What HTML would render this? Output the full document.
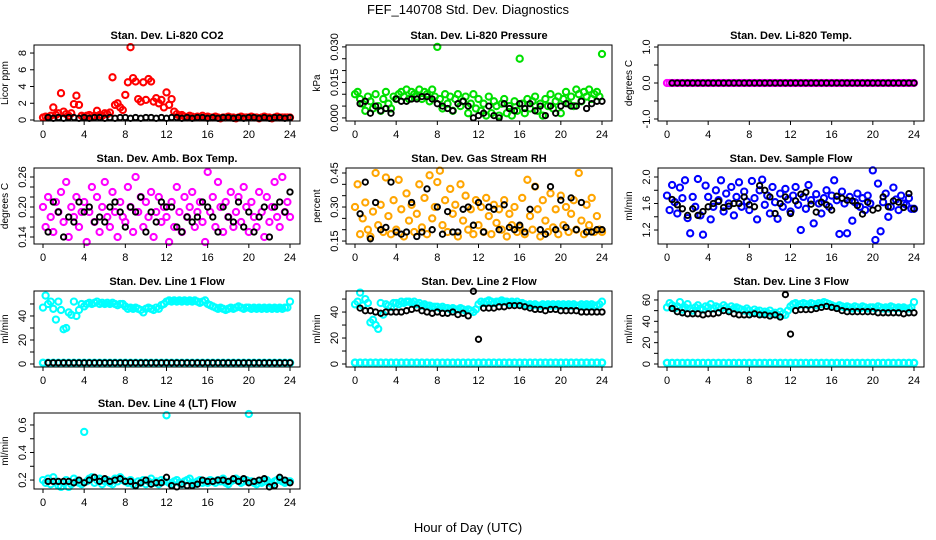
<!DOCTYPE html>
<html><head><meta charset="utf-8">
<style>
html,body{margin:0;padding:0;background:#fff;}
svg{display:block;font-family:"Liberation Sans",Arial,sans-serif;}
</style></head>
<body>
<svg id="chart" width="936" height="540" viewBox="0 0 936 540" xmlns="http://www.w3.org/2000/svg">
<rect width="936" height="540" fill="#fff"/>
<text x="468" y="14" text-anchor="middle" font-size="13">FEF_140708  Std. Dev. Diagnostics</text>
<text x="468" y="532" text-anchor="middle" font-size="13">Hour of Day (UTC)</text>
</svg>
<script>
// ---- data ----
const xTicks = [0,4,8,12,16,20,24];
const titles = ["Stan. Dev. Li-820 CO2","Stan. Dev. Li-820 Pressure","Stan. Dev. Li-820 Temp.","Stan. Dev. Amb. Box Temp.","Stan. Dev. Gas Stream RH","Stan. Dev. Sample Flow","Stan. Dev. Line 1 Flow","Stan. Dev. Line 2 Flow","Stan. Dev. Line 3 Flow","Stan. Dev. Line 4 (LT) Flow"];
const yTitles = ["Licor ppm","kPa","degrees C","degrees C","percent","ml/min","ml/min","ml/min","ml/min","ml/min"];
const yDomains = [[-0.12,8.96],[-0.0013,0.0308],[-1.056,1.056],[0.126,0.278],[0.137,0.472],[0.989,2.136],[-2.5,60.8],[-2.3,56.2],[-2.8,68.4],[0.135,0.687]];
const yTickVals = [[0,2,4,6,8],[0,0.005,0.01,0.015,0.02,0.025,0.03],[-1,-0.5,0,0.5,1],[0.14,0.16,0.18,0.2,0.22,0.24,0.26],[0.15,0.2,0.25,0.3,0.35,0.4,0.45],[1.2,1.4,1.6,1.8,2.0],[0,10,20,30,40,50],[0,10,20,30,40,50],[0,10,20,30,40,50,60],[0.2,0.3,0.4,0.5,0.6]];
const yTickLabels = [["0","2","4","6","8"],["0.000","","","0.015","","","0.030"],["-1.0","","0.0","","1.0"],["0.14","","","0.20","","","0.26"],["0.15","","","0.30","","","0.45"],["1.2","","1.6","","2.0"],["0","","20","","40",""],["0","","20","","40",""],["0","","20","","40","","60"],["0.2","","0.4","","0.6"]];
const seriesColors = ["#ff0000","#00e000","#ff00ff","#ff00ff","#ffa500","#0000ff","#00ffff","#00ffff","#00ffff","#00ffff"];

// colored series, every 0.25 h from 0 to 24 (97 values)
const co2 = [0.3,0.4,0.3,0.5,1.5,0.6,0.8,3.2,1.0,0.7,0.5,0.8,1.9,2.9,1.8,0.5, 0.4,0.5,0.6,0.3,0.5,1.1,0.6,0.5,0.8,0.7,0.9,5.1,1.8,2.0,1.5,1.2, 3.0,4.5,8.7,5.0,4.6,2.5,2.2,4.5,2.4,4.9,4.6,2.2,2.6,2.0,2.4,1.5, 3.3,1.8,2.5,1.0,0.7,0.5,0.6,0.4,0.3,0.5,0.4,0.3,0.4,0.3,0.5,0.3, 0.4,0.3,0.3,0.4,0.3,0.2,0.3,0.3,0.4,0.3,0.3,0.2,0.3,0.4,0.3,0.3, 0.3,0.4,0.3,0.3,0.2,0.3,0.4,0.3,0.3,0.2,0.3,0.4,0.3,0.3,0.3,0.3, 0.3];
const pressure = [.010,.011,.008,.006,.003,.009,.007,.004,.010,.005,.003,.008,.011,.006,.004,.009, .008,.010,.011,.009,.012,.008,.011,.010,.009,.012,.008,.011,.010,.007,.012,.009, .030,.008,.004,.010,.006,.009,.003,.008,.010,.005,.007,.009,.002,.006,.010,.004, .008,.003,.006,.001,.009,.002,.007,.005,.001,.006,.008,.002,.005,.001,.007,.003, .025,.006,.002,.008,.004,.007,.009,.003,.006,.001,.008,.005,.010,.004,.007,.009, .002,.008,.011,.006,.009,.005,.012,.010,.007,.011,.009,.012,.008,.010,.011,.009, .027];
const licorTemp = [0,0,0,0,0,0,0,0,0,0,0,0,0,0,0,0, 0,0,0,0,0,0,0,0,0,0,0,0,0,0,0,0, 0,0,0,0,0,0,0,0,0,0,0,0,0,0,0,0, 0,0,0,0,0,0,0,0,0,0,0,0,0,0,0,0, 0,0,0,0,0,0,0,0,0,0,0,0,0,0,0,0, 0,0,0,0,0,0,0,0,0,0,0,0,0,0,0,0, 0];
const boxTemp = [.20,.16,.22,.18,.15,.21,.19,.23,.17,.25,.14,.20,.18,.22,.16,.19, .21,.13,.19,.24,.17,.22,.15,.20,.25,.18,.16,.23,.19,.14,.21,.18, .17,.24,.20,.15,.26,.19,.22,.16,.21,.18,.23,.14,.19,.22,.17,.20, .18,.13,.21,.16,.24,.19,.15,.22,.18,.20,.23,.16,.19,.21,.17,.13, .27,.19,.22,.16,.25,.20,.15,.21,.18,.23,.16,.19,.22,.17,.24,.20, .15,.21,.18,.16,.23,.19,.14,.22,.17,.20,.25,.18,.16,.26,.19,.21, .18];
const gasRH = [.30,.40,.18,.25,.32,.20,.17,.28,.45,.22,.31,.19,.43,.26,.18,.33, .20,.42,.29,.17,.36,.24,.31,.19,.27,.40,.21,.34,.18,.44,.25,.30, .41,.46,.22,.33,.19,.38,.27,.31,.17,.40,.24,.35,.20,.29,.18,.33, .22,.30,.19,.34,.26,.18,.31,.23,.29,.20,.33,.17,.27,.22,.30,.19, .21,.34,.18,.42,.26,.20,.39,.29,.17,.33,.24,.19,.36,.21,.29,.18, .35,.22,.30,.19,.27,.33,.20,.45,.24,.18,.31,.22,.34,.19,.26,.20, .19];
const sampleFlow = [1.72,1.50,1.88,1.62,1.45,1.84,1.68,1.95,1.38,1.15,1.70,1.55,1.97,1.42,1.13,1.87, 1.70,1.36,1.55,1.80,1.65,1.95,1.48,1.75,1.60,1.85,1.42,1.70,1.92,1.55,1.78,1.63, 1.50,1.94,1.68,1.36,1.80,1.96,1.58,1.72,1.45,1.85,1.62,1.37,1.75,1.55,1.82,1.66, 1.48,1.72,1.85,1.58,1.20,1.70,1.52,1.88,1.65,1.30,1.74,1.60,1.45,1.68,1.80,1.55, 1.72,1.95,1.65,1.14,1.78,1.60,1.15,1.70,1.34,1.62,1.75,1.55,1.68,1.50,1.72,1.60, 2.10,1.05,1.90,1.18,1.62,1.75,1.40,1.55,1.84,1.66,1.50,1.72,1.60,1.58,1.68,1.52, 1.52];
const line1 = [47,57,50,52,46,37,52,45,29,30,43,41,52,40,45,50, 48,50,51,50,51,52,50,51,50,51,50,51,50,49,50,50, 48,46,47,46,47,46,45,43,46,47,46,45,47,46,49,50, 52,53,52,53,52,53,52,53,52,53,52,53,52,51,52,53, 50,49,48,47,46,47,46,45,46,47,46,47,48,47,46,47, 47,46,47,46,47,46,47,46,47,46,47,46,47,46,47,47, 52];
const line2 = [46,48,55,45,50,47,32,34,30,27,47,38,46,45,44,47, 47,46,48,47,48,48,47,48,46,47,45,46,45,45,44,44, 44,43,44,43,43,42,43,42,42,43,42,41,42,41,40,42, 46,48,47,48,49,48,47,48,48,49,48,48,47,48,47,48, 46,47,46,45,46,45,46,45,45,46,45,46,45,46,45,46, 45,46,45,46,45,46,45,45,46,45,46,45,46,45,45,46, 48];
const line3 = [53,57,55,52,54,58,51,53,56,52,50,53,55,52,51,54, 53,56,52,54,53,52,55,53,51,54,52,53,52,51,50,52, 50,48,51,49,50,47,49,48,50,47,48,46,49,47,46,50, 54,56,57,55,56,57,56,55,57,56,55,57,56,58,57,56, 55,54,53,55,54,53,54,53,52,54,53,52,54,53,52,53, 53,52,54,53,52,53,52,54,53,52,53,52,53,52,52,53, 58];
const line4 = [.20,.18,.21,.17,.22,.19,.16,.15,.18,.20,.15,.17,.21,.19,.18,.17, .55,.19,.21,.22,.18,.20,.21,.17,.19,.20,.18,.17,.21,.19,.22,.20, .19,.18,.20,.17,.16,.19,.18,.20,.17,.19,.21,.18,.19,.17,.20,.19, .67,.18,.17,.19,.20,.18,.17,.19,.20,.21,.18,.17,.19,.20,.18,.19, .18,.20,.19,.18,.20,.19,.21,.18,.17,.19,.20,.21,.20,.18,.19,.20, .68,.19,.18,.17,.19,.18,.19,.20,.18,.17,.19,.20,.21,.19,.18,.19, .19];
// zero-flow colored series, every 0.5 h from 0 to 24 (49 values)
const line1Zero = [1,1,1,1,1,1,1,1,1,1,1,1,1,1,1,1,1,1,1,1,1,1,1,1,1,1,1,1,1,1,1,1,1,1,1,1,1,1,1,1,1,1,1,1,1,1,1,1,1];
const line2Zero = [1,1,1,1,1,1,1,1,1,1,1,1,1,1,1,1,1,1,1,1,1,1,1,1,1,1,1,1,1,1,1,1,1,1,1,1,1,1,1,1,1,1,1,1,1,1,1,1,1];
const line3Zero = [1,1,1,1,1,1,1,1,1,1,1,1,1,1,1,1,1,1,1,1,1,1,1,1,1,1,1,1,1,1,1,1,1,1,1,1,1,1,1,1,1,1,1,1,1,1,1,1,1];
// black (hourly-average) series, every 0.5 h from 0.5 to 24 (48 values)
const co2Black = [0.3,0.2,0.3,0.2,0.3,0.3,0.2,0.3,0.2,0.3,0.3,0.2,0.3,0.2,0.3,0.3,0.2,0.3,0.2,0.3,0.3,0.2,0.3,0.2,0.3,0.3,0.2,0.3,0.2,0.3,0.3,0.2,0.3,0.2,0.3,0.3,0.2,0.3,0.2,0.3,0.3,0.2,0.3,0.2,0.3,0.3,0.2,0.3];
const pressureBlack = [.006,.007,.002,.005,.003,.004,.002,.008,.007,.007,.008,.008,.009,.009,.008,.006,.005,.004,.003,.006,.007,.005,.000,.001,.002,.005,.001,.000,.006,.004,.003,.006,.004,.006,.003,.005,.001,.005,.002,.005,.006,.005,.005,.007,.004,.006,.007,.007];
const tempBlack = [0,0,0,0,0,0,0,0,0,0,0,0,0,0,0,0,0,0,0,0,0,0,0,0,0,0,0,0,0,0,0,0,0,0,0,0,0,0,0,0,0,0,0,0,0,0,0,0];
const boxBlack = [.15,.21,.19,.14,.18,.17,.21,.19,.20,.17,.18,.17,.20,.21,.19,.16,.20,.19,.22,.15,.19,.17,.21,.20,.20,.16,.15,.18,.17,.18,.21,.20,.18,.15,.20,.18,.17,.21,.16,.19,.15,.18,.20,.14,.20,.21,.19,.23];
const rhBlack = [.27,.41,.16,.32,.20,.21,.41,.19,.18,.19,.32,.17,.19,.38,.20,.30,.18,.28,.19,.19,.29,.30,.22,.32,.19,.30,.29,.20,.31,.21,.20,.22,.19,.29,.39,.20,.18,.39,.20,.33,.21,.34,.20,.32,.19,.19,.20,.20];
const flowBlack = [1.66,1.58,1.52,1.42,1.52,1.42,1.48,1.55,1.60,1.63,1.54,1.56,1.60,1.60,1.70,1.58,1.55,1.87,1.80,1.70,1.45,1.60,1.70,1.45,1.64,1.74,1.77,1.59,1.47,1.62,1.58,1.50,1.71,1.68,1.65,1.64,1.57,1.44,1.62,1.50,1.53,1.70,1.55,1.64,1.62,1.54,1.75,1.52];
const line1Black = [1,1,1,1,1,1,1,1,1,1,1,1,1,1,1,1,1,1,1,1,1,1,1,1,1,1,1,1,1,1,1,1,1,1,1,1,1,1,1,1,1,1,1,1,1,1,1,1];
const line2Black = [43,41,41,40,39,40,40,40,40,41,42,43,41,40,39,40,39,39,40,38,39,37,56,19,43,43,43,44,44,45,45,45,44,43,42,42,41,42,42,41,41,41,41,40,40,40,40,40];
const line3Black = [52,49,48,47,47,47,46,47,47,48,50,49,47,46,46,46,47,46,46,45,46,44,65,28,50,51,51,51,52,53,54,53,52,50,49,49,49,49,49,49,48,48,48,48,48,47,48,48];
const line4Black = [.19,.19,.19,.19,.19,.18,.20,.18,.20,.22,.19,.21,.19,.20,.21,.19,.19,.16,.18,.20,.17,.18,.18,.22,.16,.15,.17,.16,.16,.17,.20,.19,.19,.20,.20,.19,.21,.19,.21,.18,.19,.20,.21,.15,.16,.22,.20,.18];

const colored = [co2,pressure,licorTemp,boxTemp,gasRH,sampleFlow,line1,line2,line3,line4];
const zeroSeries = [null,null,null,null,null,null,line1Zero,line2Zero,line3Zero,null];
const black = [co2Black,pressureBlack,tempBlack,boxBlack,rhBlack,flowBlack,line1Black,line2Black,line3Black,line4Black];

// ---- drawing ----
const svg = document.getElementById('chart');
const NS = 'http://www.w3.org/2000/svg';
function mk(tag, attrs, parent){
  const e = document.createElementNS(NS, tag);
  for (const k in attrs) e.setAttribute(k, attrs[k]);
  (parent||svg).appendChild(e);
  return e;
}
const colLeft = [34,346,658], rowTop = [45,168,291,413];
const boxW = 266, boxH = 76, xPad = 9;

titles.forEach((title, p) => {
  const col = p % 3, row = Math.floor(p / 3);
  const L = colLeft[col], T = rowTop[row];
  const x0 = L + xPad, x1 = L + boxW - 10;
  const xs = v => x0 + (v / 24) * (x1 - x0);
  const [lo, hi] = yDomains[p];
  const ys = v => T + boxH - (v - lo) / (hi - lo) * boxH;

  const g = mk('g', {});
  
  

  const pts = mk('g', {}, g);
  
  
  const drawSeries = (vals, t0, dt, color, name, r, sw) => {
    vals.forEach((v, i) => {
      const c = mk('circle', {cx: xs(t0 + i * dt).toFixed(1), cy: ys(v).toFixed(1), r: r, fill: 'none', stroke: color, 'stroke-width': sw}, pts);
      
      
    });
  };
  drawSeries(colored[p], 0, 0.25, seriesColors[p], 'data-point', 3.1, 2.1);
  if (zeroSeries[p]) drawSeries(zeroSeries[p], 0, 0.5, seriesColors[p], 'zero-point', 3.1, 2.4);
  drawSeries(black[p], 0.5, 0.5, '#000', 'mean-point', 2.7, 1.9);

  const box = mk('rect', {x: L, y: T, width: boxW, height: boxH, fill: 'none', stroke: '#000', 'stroke-width': 1}, g);
  
  

  const t = mk('text', {x: L + boxW / 2, y: T - 6, 'text-anchor': 'middle', 'font-size': 11, 'font-weight': 'bold'}, g);
  
  
  t.textContent = title;

  // x axis
  const xa = mk('g', {}, g);
  
  
  mk('line', {x1: xs(0), x2: xs(24), y1: T + boxH, y2: T + boxH, stroke: '#000'}, xa);
  xTicks.forEach(v => {
    mk('line', {x1: xs(v), x2: xs(v), y1: T + boxH, y2: T + boxH + 4, stroke: '#000'}, xa);
    const tl = mk('text', {x: xs(v), y: T + boxH + 17, 'text-anchor': 'middle', 'font-size': 11}, xa);
    
    
    tl.textContent = v;
  });

  // y axis
  const ya = mk('g', {}, g);
  
  
  const tv = yTickVals[p];
  tv.forEach((v, i) => {
    mk('line', {x1: L, x2: L - 4, y1: ys(v), y2: ys(v), stroke: '#000'}, ya);
    const lab = yTickLabels[p][i];
    if (lab) {
      const tl = mk('text', {x: L - 8, y: ys(v), 'text-anchor': 'middle', 'font-size': 11, transform: 'rotate(-90 ' + (L - 8) + ' ' + ys(v) + ')'}, ya);
      
      
      tl.textContent = lab;
    }
  });
  const yt = mk('text', {x: L - 26, y: T + boxH / 2, 'text-anchor': 'middle', 'font-size': 10, transform: 'rotate(-90 ' + (L - 26) + ' ' + (T + boxH / 2) + ')'}, g);
  
  
  yt.textContent = yTitles[p];
});
</script>
</body></html>
